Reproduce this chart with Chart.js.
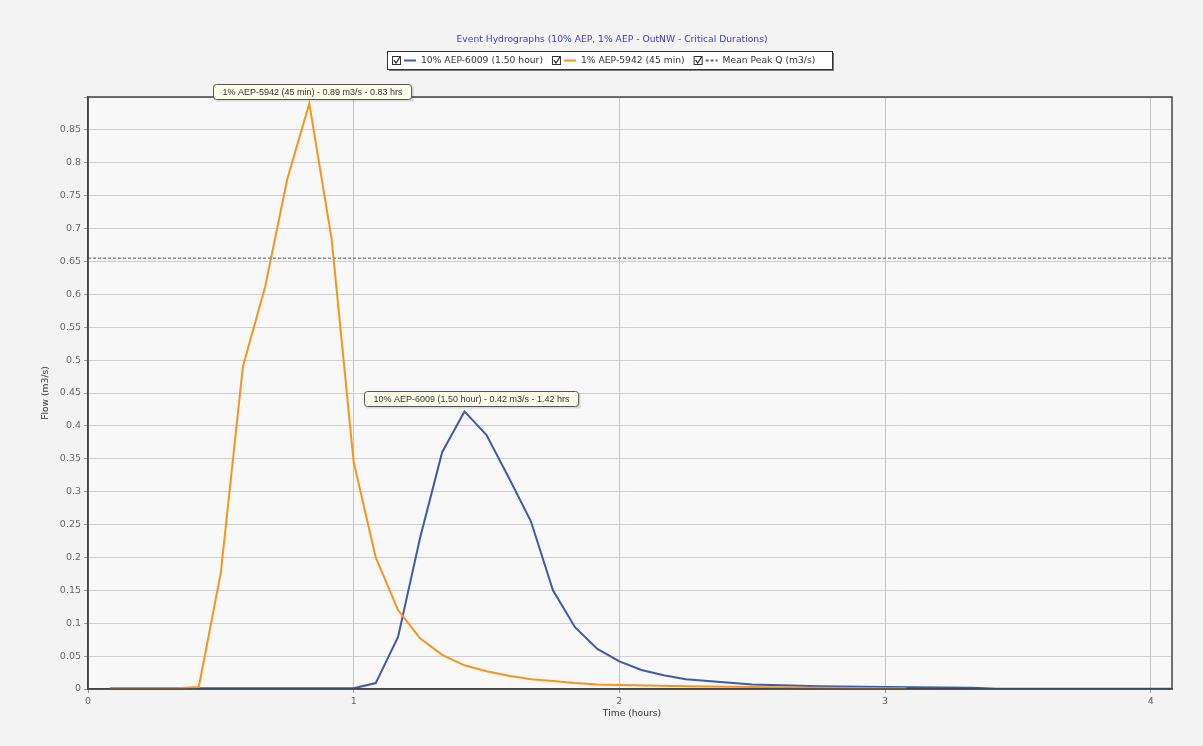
<!DOCTYPE html>
<html>
<head>
<meta charset="utf-8">
<title>Event Hydrographs</title>
<script src="https://cdn.jsdelivr.net/npm/chart.js@4.4.1/dist/chart.umd.min.js"></script>
<style>
  html, body { margin: 0; padding: 0; background: #f3f3f3; }
  #wrap { width: 1203px; height: 746px; position: relative; }
</style>
</head>
<body>
<div id="wrap"><canvas id="chart-hydro" width="1203" height="746"></canvas></div>
<script>
// 時間 (hours) と流量 (m3/s) - 画像から読み取り
var orangeTime = [0.083, 0.167, 0.25, 0.333, 0.417, 0.5, 0.583, 0.667, 0.75, 0.833, 0.917, 1.0, 1.083, 1.167, 1.25, 1.333, 1.417, 1.5, 1.583, 1.667, 1.75, 1.833, 1.917, 2.0, 2.25, 2.5, 2.75, 3.0, 3.08];
var orangeFlow = [0.001, 0.001, 0.001, 0.001, 0.003, 0.177, 0.49, 0.612, 0.775, 0.89, 0.684, 0.345, 0.2, 0.12, 0.077, 0.052, 0.036, 0.027, 0.02, 0.015, 0.012, 0.009, 0.007, 0.006, 0.004, 0.003, 0.002, 0.001, 0.001];

var blueTime = [0.083, 1.0, 1.083, 1.167, 1.25, 1.333, 1.417, 1.5, 1.583, 1.667, 1.75, 1.833, 1.917, 2.0, 2.083, 2.167, 2.25, 2.5, 2.75, 3.0, 3.33, 3.42, 4.08];
var blueFlow = [0.001, 0.001, 0.009, 0.079, 0.23, 0.36, 0.422, 0.386, 0.322, 0.255, 0.15, 0.094, 0.061, 0.042, 0.029, 0.021, 0.015, 0.007, 0.004, 0.003, 0.002, 0.0005, 0.0005];

var meanPeakQ = 0.655;
var xTicks = [0, 1, 2, 3, 4];
var xMax = 4.08;
var yMax = 0.9;

var TITLE = 'Event Hydrographs (10% AEP, 1% AEP - OutNW - Critical Durations)';
var SERIES_LABELS = ['10% AEP-6009 (1.50 hour)', '1% AEP-5942 (45 min)', 'Mean Peak Q (m3/s)'];
var PEAK_LABELS = [
  '10% AEP-6009 (1.50 hour) - 0.42 m3/s - 1.42 hrs',
  '1% AEP-5942 (45 min) - 0.89 m3/s - 0.83 hrs'
];
var BLUE = '#3f5aa6';
var ORANGE = '#f7941d';

function pairs(xs, ys) {
  return xs.map(function(x, i) { return { x: x, y: ys[i] }; });
}

function drawCheck(ctx, x, y) {
  ctx.fillStyle = '#fff';
  ctx.fillRect(x, y, 8, 8);
  ctx.strokeStyle = '#333';
  ctx.lineWidth = 1;
  ctx.strokeRect(x + 0.5, y + 0.5, 8, 8);
  ctx.beginPath();
  ctx.moveTo(x + 2, y + 4);
  ctx.lineTo(x + 4, y + 7);
  ctx.lineTo(x + 8, y + 1);
  ctx.lineWidth = 1.3;
  ctx.stroke();
}

function drawPeakLabel(ctx, text, cx, bottom) {
  ctx.font = '9px "Liberation Sans", Arial, sans-serif';
  var w = ctx.measureText(text).width + 18;
  var h = 15;
  var x = Math.round(cx - w / 2) + 0.5;
  var y = Math.round(bottom - h) + 0.5;
  ctx.fillStyle = 'rgba(0,0,0,0.12)';
  ctx.fillRect(x + 2, y + 2, w, h);
  ctx.fillStyle = '#fbfbea';
  ctx.beginPath();
  ctx.roundRect(x, y, w, h, 3);
  ctx.fill();
  ctx.strokeStyle = '#555';
  ctx.lineWidth = 1;
  ctx.stroke();
  ctx.fillStyle = '#333';
  ctx.textAlign = 'center';
  ctx.textBaseline = 'middle';
  ctx.fillText(text, x + w / 2, y + h / 2 + 0.5);
}

var decor = {
  id: 'decor',
  beforeDraw: function(chart) {
    var ctx = chart.ctx;
    var a = chart.chartArea;
    ctx.save();
    ctx.fillStyle = '#f3f3f3';
    ctx.fillRect(0, 0, chart.width, chart.height);
    ctx.fillStyle = '#f8f8f8';
    ctx.fillRect(a.left, a.top, a.right - a.left, a.bottom - a.top);
    ctx.restore();
  },
  afterDraw: function(chart) {
    var ctx = chart.ctx;
    var a = chart.chartArea;
    var sx = chart.scales.x;
    var sy = chart.scales.y;
    ctx.save();

    // 枠線
    ctx.strokeStyle = '#444';
    ctx.lineWidth = 1.5;
    ctx.strokeRect(a.left, a.top, a.right - a.left, a.bottom - a.top);

    // タイトル
    ctx.font = '9.2px "DejaVu Sans", Verdana, sans-serif';
    ctx.fillStyle = '#3a3ad0';
    ctx.textAlign = 'center';
    ctx.textBaseline = 'middle';
    ctx.fillText(TITLE, 612, 40);

    // 凡例
    var lx = 387, ly = 51, lw = 445, lh = 18;
    ctx.fillStyle = 'rgba(0,0,0,0.5)';
    ctx.fillRect(lx + 2, ly + 2, lw, lh);
    ctx.fillStyle = '#fff';
    ctx.fillRect(lx, ly, lw, lh);
    ctx.strokeStyle = '#333';
    ctx.lineWidth = 1;
    ctx.strokeRect(lx + 0.5, ly + 0.5, lw, lh);
    ctx.font = '9.2px "DejaVu Sans", Verdana, sans-serif';
    ctx.textAlign = 'left';
    var colors = [BLUE, ORANGE, '#666'];
    var ix = lx + 5;
    var my = ly + lh / 2 + 0.5;
    SERIES_LABELS.forEach(function(label, i) {
      drawCheck(ctx, ix, ly + 5);
      ctx.strokeStyle = colors[i];
      ctx.lineWidth = 2;
      ctx.setLineDash(i === 2 ? [3, 2] : []);
      ctx.beginPath();
      ctx.moveTo(ix + 12, my);
      ctx.lineTo(ix + 24, my);
      ctx.stroke();
      ctx.setLineDash([]);
      ctx.fillStyle = '#333';
      ctx.fillText(label, ix + 29, my);
      ix += 29 + ctx.measureText(label).width + 9;
    });

    // 軸タイトル
    ctx.font = '9.2px "DejaVu Sans", Verdana, sans-serif';
    ctx.fillStyle = '#333';
    ctx.textAlign = 'center';
    ctx.fillText('Time (hours)', 632, 714);
    ctx.translate(46, 393);
    ctx.rotate(-Math.PI / 2);
    ctx.fillText('Flow (m3/s)', 0, 0);
    ctx.setTransform(1, 0, 0, 1, 0, 0);

    // ピークラベル
    var bi = blueFlow.indexOf(Math.max.apply(null, blueFlow));
    var oi = orangeFlow.indexOf(Math.max.apply(null, orangeFlow));
    drawPeakLabel(ctx, PEAK_LABELS[0], sx.getPixelForValue(blueTime[bi]) + 7, sy.getPixelForValue(blueFlow[bi]) - 5);
    drawPeakLabel(ctx, PEAK_LABELS[1], sx.getPixelForValue(orangeTime[oi]) + 3, sy.getPixelForValue(orangeFlow[oi]) - 5);

    ctx.restore();
  }
};

var tickFont = { family: '"DejaVu Sans", Verdana, sans-serif', size: 9.5 };

var chart = new Chart(document.getElementById('chart-hydro'), {
  type: 'line',
  data: {
    datasets: [
      {
        label: SERIES_LABELS[2],
        data: [{ x: 0, y: meanPeakQ }, { x: xMax, y: meanPeakQ }],
        borderColor: '#8a8a8a',
        borderWidth: 1.5,
        borderDash: [3, 2],
        pointRadius: 0,
        fill: false
      },
      {
        label: SERIES_LABELS[1],
        data: pairs(orangeTime, orangeFlow),
        borderColor: ORANGE,
        borderWidth: 2,
        pointRadius: 0,
        tension: 0,
        fill: false
      },
      {
        label: SERIES_LABELS[0],
        data: pairs(blueTime, blueFlow),
        borderColor: BLUE,
        borderWidth: 2,
        pointRadius: 0,
        tension: 0,
        fill: false
      }
    ]
  },
  options: {
    responsive: false,
    animation: false,
    layout: { padding: { top: 97, right: 31, bottom: 0, left: 0 } },
    plugins: {
      legend: { display: false },
      title: { display: false },
      tooltip: { enabled: false }
    },
    scales: {
      x: {
        type: 'linear',
        min: 0,
        max: xMax,
        afterBuildTicks: function(scale) {
          scale.ticks = xTicks.map(function(v) { return { value: v }; });
        },
        afterFit: function(scale) { scale.height = 57; },
        grid: { color: '#c4c4c4', lineWidth: 1, drawTicks: true, tickLength: 4, tickColor: '#999' },
        border: { display: true, color: '#444', width: 1.5 },
        ticks: { color: '#666', font: tickFont, padding: 3, maxRotation: 0 }
      },
      y: {
        type: 'linear',
        min: 0,
        max: yMax,
        afterBuildTicks: function(scale) {
          var t = [];
          for (var i = 0; i <= 18; i++) t.push({ value: Math.round(i * 5) / 100 });
          scale.ticks = t;
        },
        afterFit: function(scale) { scale.width = 88; },
        grid: { color: '#cfcfcf', lineWidth: 1, drawTicks: true, tickLength: 4, tickColor: '#999' },
        border: { display: true, color: '#444', width: 1.5 },
        ticks: {
          color: '#666',
          font: tickFont,
          padding: 3,
          callback: function(v) { return v >= 0.9 ? '' : String(Math.round(v * 100) / 100); }
        }
      }
    }
  },
  plugins: [decor]
});
</script>
</body>
</html>
